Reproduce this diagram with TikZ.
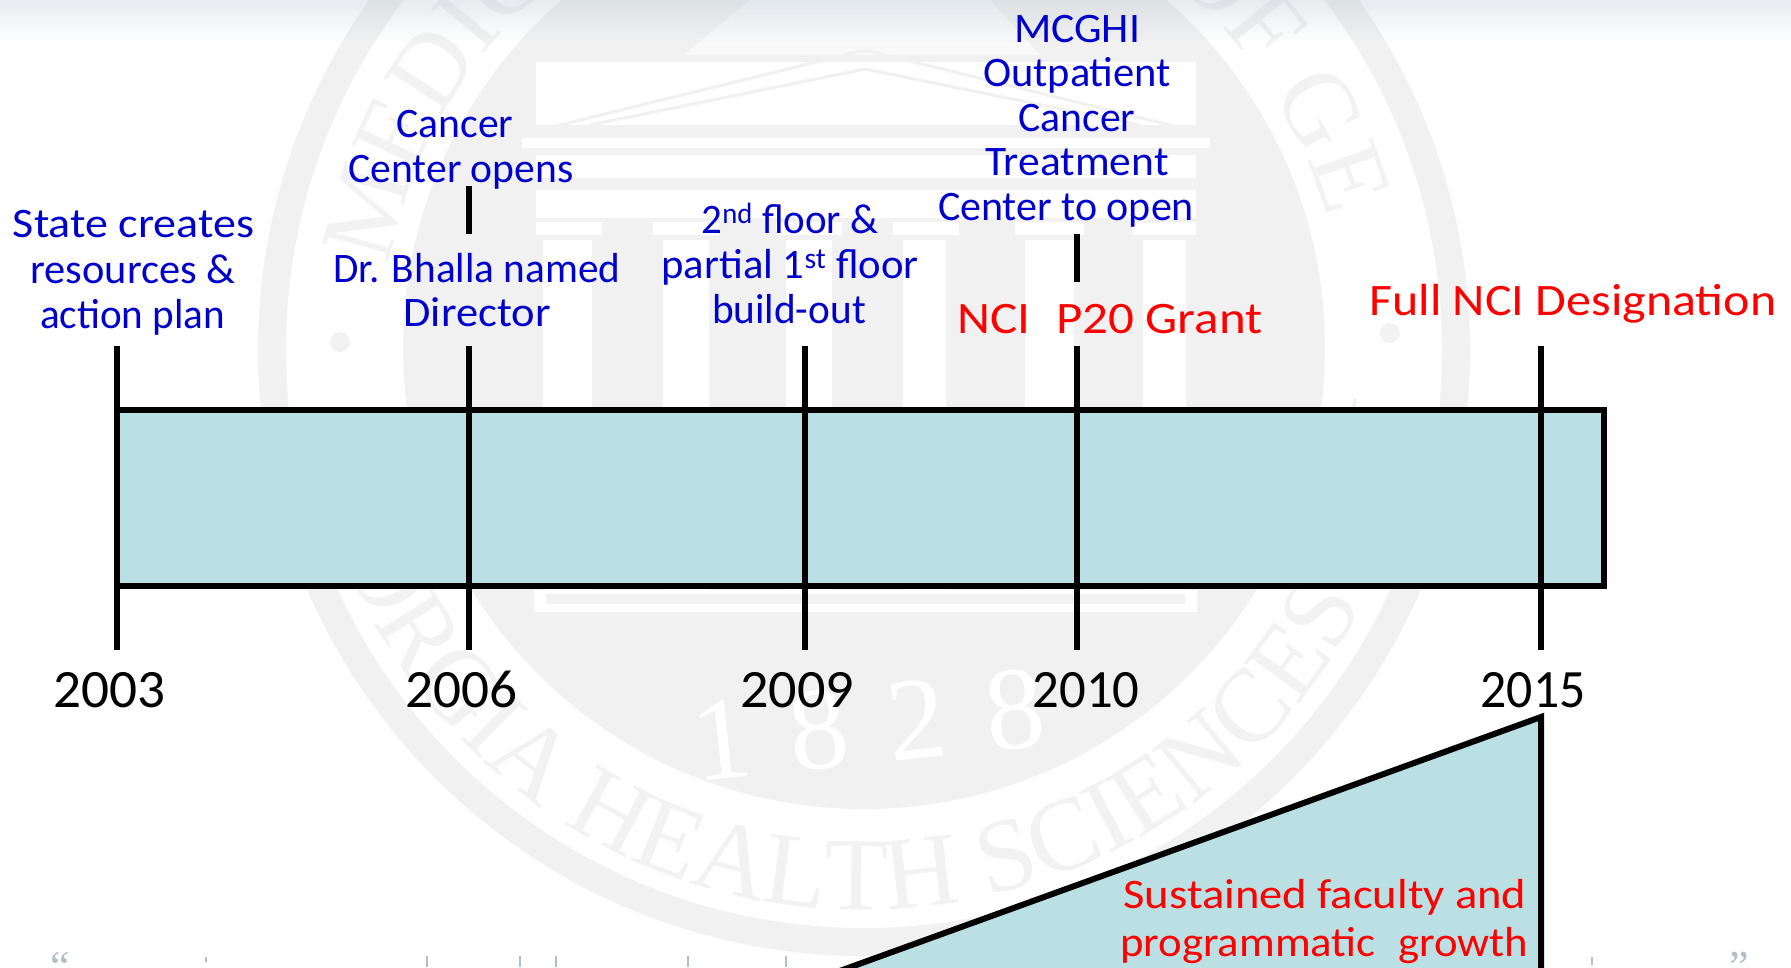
\documentclass[tikz,border=0pt]{standalone}
\usepackage{fontspec}
\usepackage{graphicx}
\usetikzlibrary{decorations.text}
\setmainfont{Carlito}
\newfontfamily\wmfont{Liberation Serif}
\definecolor{barfill}{HTML}{BBE0E3}
\definecolor{inkblue}{HTML}{0000CC}
\definecolor{inkred}{HTML}{FF0000}
\definecolor{wmgray}{HTML}{F1F1F1}
\definecolor{wmtext}{HTML}{F2F2F2}
\definecolor{topband}{HTML}{9FB3C4}
\definecolor{quotegray}{HTML}{B4BEC8}
\newcommand{\fitw}[2]{\resizebox{#1pt}{\height}{#2}}
\newcommand{\sz}[1]{\fontsize{#1}{#1}\selectfont}
\tikzset{
  x=1pt,y=-1pt,
  lblblue/.style={anchor=base,inner sep=0pt,text=inkblue,font=\sz{42}},
  lblred/.style={anchor=base,inner sep=0pt,text=inkred,font=\sz{45}},
  lblyear/.style={anchor=base,inner sep=0pt,text=black,font=\sz{54}},
  mark line/.style={draw=black,line width=6pt},
  bar shape/.style={draw=black,line width=6pt,fill=barfill,miter limit=10},
  wmwhite/.style={fill=white,draw=none},
  wmline/.style={draw=wmgray,line width=3pt},
  quotemark/.style={draw=quotegray,line width=1.6pt},
}
\begin{document}
\begin{tikzpicture}
\useasboundingbox (0,0) rectangle (1791,967);
\begin{scope}
\clip (0,0) rectangle (1791,967);
% --- watermark seal
\fill[wmgray] (864,350) circle[radius=606pt];
\fill[white] (864,350) circle[radius=578pt];
\path[decorate,decoration={text along path,text align={fit to path},
  text={|\wmfont\sz{104}\color{wmtext}|MEDICAL COLLEGE OF GEORGIA}}]
  (864,350) ++(170:482pt) arc[start angle=170,end angle=14,radius=482pt];
\path[decorate,decoration={text along path,text align={fit to path},
  text={|\wmfont\sz{104}\color{wmtext}|GEORGIA HEALTH SCIENCES UNIVERSITY}}]
  (864,350) ++(187:560pt) arc[start angle=187,end angle=353,radius=560pt];
\fill[wmtext] (340,342) circle[radius=10pt];
\fill[wmtext] (1390,333) circle[radius=10pt];
\fill[wmgray] (864,348) circle[radius=461pt];
% building
\fill[white!60!wmgray] (684,55) -- (750,0) -- (990,0) -- (1040,55) -- cycle;
\fill[wmwhite] (536,62) rectangle (1196,125);
\draw[wmline] (540,130) -- (865,50) -- (1190,130);
\draw[wmline] (590,125) -- (865,69) -- (1140,125);
\fill[wmwhite] (522,138) rectangle (1210,148);
\fill[wmwhite] (536,155) rectangle (1196,178);
\fill[wmwhite] (536,190) rectangle (1196,218);
\foreach \a/\b in {536/602,653/719,776/842,893/959,1015/1084,1133/1196}
  \fill[wmwhite] (\a,222) rectangle (\b,235);
\foreach \a/\b in {543/592,663/709,786/832,903/946,1025/1074,1143/1186}
  \fill[wmwhite] (\a,240) rectangle (\b,590);
\fill[wmwhite] (534,590) rectangle (1197,612);
\fill[wmgray] (546,594) rectangle (1185,604);
\node[inner sep=0pt,rotate=6,text=white,font=\wmfont\sz{118}] (seal year) at (868,725) {1\,\,8\,\,2\,\,8};
% top band
\foreach \i in {0,...,13}
  \fill[topband,opacity={0.24*(1-\i/14)}] (0,{\i*3}) rectangle (1791,{\i*3+3});
% bottom cropped quotation
\node[anchor=north,inner sep=0pt,text=quotegray,font=\wmfont\sz{44}] (open quote) at (60,952) {“};
\node[anchor=north,inner sep=0pt,text=quotegray,font=\wmfont\sz{44}] (close quote) at (1739,952) {”};
\coordinate (q0) at (206,957);\coordinate (q0e) at (206,962);
\coordinate (q1) at (427,956);\coordinate (q1e) at (427,967);
\coordinate (q2) at (520,956);\coordinate (q2e) at (520,967);
\coordinate (q3) at (556,956);\coordinate (q3e) at (556,967);
\coordinate (q4) at (688,956);\coordinate (q4e) at (688,967);
\coordinate (q5) at (786,956);\coordinate (q5e) at (786,967);
\coordinate (q6) at (1592,957);\coordinate (q6e) at (1592,965);
\foreach \n in {0,...,6} \draw[quotemark] (q\n) -- (q\n e);
% --- triangle
\coordinate (tri top) at (1541,717);
\coordinate (tri foot) at (1541,985);
\coordinate (tri left) at (790,989);
\draw[bar shape] (tri left) -- (tri top) -- (tri foot);
% --- bar
\coordinate (bar nw) at (117,410);
\coordinate (bar se) at (1604,586);
\draw[bar shape] (bar nw) rectangle (bar se);
% --- tick marks
\foreach \n/\x in {a/117,b/469,c/805,d/1077,e/1541}{
  \coordinate (up\n) at (\x,346);
  \coordinate (dn\n) at (\x,650);
  \draw[mark line] (up\n) -- (dn\n);
}
\coordinate (hb1) at (469,186); \coordinate (hb2) at (469,234);
\draw[mark line] (hb1) -- (hb2);
\coordinate (hd1) at (1077,234); \coordinate (hd2) at (1077,282);
\draw[mark line] (hd1) -- (hd2);
% --- blue labels
\node[lblblue] (s1) at (133.5,237) {\fitw{241}{State creates}};
\node[lblblue] (s2) at (133,283) {\fitw{205}{resources \&}};
\node[lblblue] (s3) at (132.5,328) {\fitw{185}{action plan}};
\node[lblblue] (c1) at (455,137) {\fitw{117}{Cancer}};
\node[lblblue] (c2) at (461,182) {\fitw{225}{Center opens}};
\node[lblblue] (b1) at (477,282) {\fitw{287}{Dr. Bhalla named}};
\node[lblblue] (b2) at (477,326) {\fitw{147}{Director}};
\node[lblblue] (f1) at (790,233) {\fitw{177}{2\textsuperscript{nd} floor \&}};
\node[lblblue] (f2) at (790,278) {\fitw{257}{partial 1\textsuperscript{st} floor}};
\node[lblblue] (f3) at (789,323) {\fitw{154}{build-out}};
\node[lblblue] (m1) at (1077,42) {\fitw{126}{MCGHI}};
\node[lblblue] (m2) at (1077,86) {\fitw{188}{Outpatient}};
\node[lblblue] (m3) at (1077,131) {\fitw{117}{Cancer}};
\node[lblblue] (m4) at (1077,175) {\fitw{183}{Treatment}};
\node[lblblue] (m5) at (1066,220) {\fitw{256}{Center to open}};
% --- red labels
\node[lblred] (p20) at (1110,333) {\fitw{305}{NCI\hspace{0.5em}P20 Grant}};
\node[lblred] (full) at (1573,315) {\fitw{407}{Full NCI Designation}};
\node[lblred,font=\sz{42}] (g1) at (1325,908) {\fitw{403}{Sustained faculty and}};
\node[lblred,font=\sz{42}] (g2) at (1324,956) {\fitw{408}{programmatic\hspace{0.5em}growth}};
% --- years
\node[lblyear] (y03) at (109,707) {\fitw{112}{2003}};
\node[lblyear] (y06) at (461,707) {\fitw{112}{2006}};
\node[lblyear] (y09) at (797,707) {\fitw{114}{2009}};
\node[lblyear] (y10) at (1086,707) {\fitw{107}{2010}};
\node[lblyear] (y15) at (1533,707) {\fitw{105}{2015}};
\end{scope}
\end{tikzpicture}
\end{document}
